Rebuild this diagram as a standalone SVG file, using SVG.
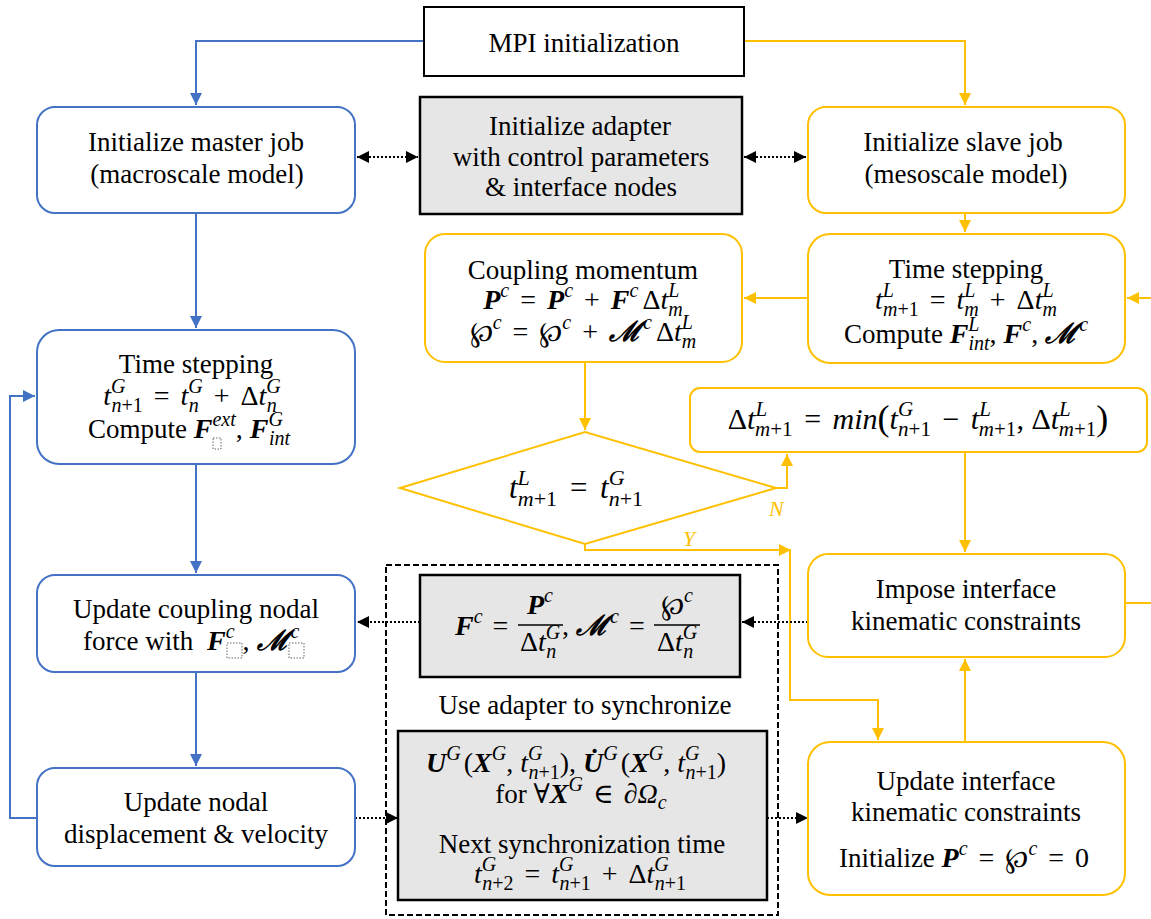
<svg xmlns="http://www.w3.org/2000/svg" width="1151" height="919" viewBox="0 0 1151 919">
<style>
.bl{fill:#fff;stroke:#4472C4;stroke-width:2}
.or{fill:#fff;stroke:#FFC000;stroke-width:2}
.gr{fill:#e7e6e6;stroke:#000;stroke-width:2.5}
.bk{fill:#fff;stroke:#000;stroke-width:2}
.t{font-family:"Liberation Serif","DejaVu Serif",serif;font-size:27px;fill:#000;text-anchor:middle}
.m{font-size:28px}
.st{text-anchor:start}
.i{font-style:italic}
.b{font-style:italic;font-weight:bold}
.s{font-size:20px}
.d{font-size:31px}
.ds{font-size:22px}
.e{font-size:30px}
.es{font-size:21px}
.pa{font-size:36px}
.cb{fill:none;stroke:#4472C4;stroke-width:2}
.co{fill:none;stroke:#FFC000;stroke-width:2}
.cd{fill:none;stroke:#000;stroke-width:2;stroke-dasharray:2 2}
.ph{fill:none;stroke:#666;stroke-width:1;stroke-dasharray:1.5 1.5}
.lab{font-family:"Liberation Serif","DejaVu Serif",serif;font-size:22px;font-style:italic;fill:#FFC000}
</style>
<defs>
<marker id="ab" viewBox="0 0 10 10" refX="10" refY="5" markerWidth="12" markerHeight="12" orient="auto-start-reverse" markerUnits="userSpaceOnUse"><path d="M0,0 L10,5 L0,10 z" fill="#4472C4"/></marker>
<marker id="ao" viewBox="0 0 10 10" refX="10" refY="5" markerWidth="12" markerHeight="12" orient="auto-start-reverse" markerUnits="userSpaceOnUse"><path d="M0,0 L10,5 L0,10 z" fill="#FFC000"/></marker>
<marker id="ak" viewBox="0 0 10 10" refX="10" refY="5" markerWidth="12" markerHeight="12" orient="auto-start-reverse" markerUnits="userSpaceOnUse"><path d="M0,0 L10,5 L0,10 z" fill="#000"/></marker>
</defs>
<rect width="1151" height="919" fill="#fff"/>

<g id="connectors">
<path class="cb" d="M424,41 H196 V105" marker-end="url(#ab)"/>
<path class="cb" d="M196,213 V328" marker-end="url(#ab)"/>
<path class="cb" d="M196,464 V573" marker-end="url(#ab)"/>
<path class="cb" d="M196,672 V766" marker-end="url(#ab)"/>
<path class="cb" d="M37,818 H10 V396 H35" marker-end="url(#ab)"/>
<path class="co" d="M744,41 H965 V105" marker-end="url(#ao)"/>
<path class="co" d="M965,213 V232" marker-end="url(#ao)"/>
<path class="co" d="M808,298 H744" marker-end="url(#ao)"/>
<path class="co" d="M1151,298 H1127" marker-end="url(#ao)"/>
<path class="co" d="M1125,603 H1151"/>
<path class="co" d="M585,362 V430" marker-end="url(#ao)"/>
<path class="co" d="M776,488 H787 V454" marker-end="url(#ao)"/>
<path class="co" d="M585,544 V550 H791" marker-end="url(#ao)"/>
<path class="co" d="M790,550 V700 H878 V740" marker-end="url(#ao)"/>
<path class="co" d="M965,452 V552" marker-end="url(#ao)"/>
<path class="co" d="M965,742 V659" marker-end="url(#ao)"/>
<path class="cd" d="M357,157 H418" marker-start="url(#ak)" marker-end="url(#ak)"/>
<path class="cd" d="M744,157 H806" marker-start="url(#ak)" marker-end="url(#ak)"/>
<path class="cd" d="M808,622 H742" marker-end="url(#ak)"/>
<path class="cd" d="M420,622 H357" marker-end="url(#ak)"/>
<path class="cd" d="M355,818 H398" marker-end="url(#ak)"/>
<path class="cd" d="M767,818 H808" marker-end="url(#ak)"/>
<text class="lab" x="769" y="516">N</text>
<text class="lab" x="683" y="546">Y</text>
</g>

<g id="mpi">
<rect class="bk" x="424" y="7" width="320" height="69"/>
<text class="t" x="584" y="52">MPI initialization</text>
</g>

<g id="master">
<rect class="bl" x="37" y="107" width="318" height="106" rx="18"/>
<text class="t" x="196" y="151">Initialize master job</text>
<text class="t" x="197" y="183">(macroscale model)</text>
</g>

<g id="adapter">
<rect class="gr" x="420" y="97" width="322" height="117"/>
<text class="t" x="580" y="135">Initialize adapter</text>
<text class="t" x="581" y="166">with control parameters</text>
<text class="t" x="581" y="196">&amp; interface nodes</text>
</g>

<g id="slave">
<rect class="or" x="808" y="107" width="317" height="106" rx="18"/>
<text class="t" x="963" y="151">Initialize slave job</text>
<text class="t" x="966" y="183">(mesoscale model)</text>
</g>

<g id="coupling-momentum">
<rect class="or" x="425" y="234" width="317" height="128" rx="20"/>
<text class="t" x="583" y="279">Coupling momentum</text>
<text class="t m" x="583" y="309"><tspan class="b">P</tspan><tspan class="s i" dy="-12">c</tspan><tspan dx="4" dy="12"> = </tspan><tspan class="b" dx="4">P</tspan><tspan class="s i" dy="-12">c</tspan><tspan dx="4" dy="12"> + </tspan><tspan class="b" dx="4">F</tspan><tspan class="s i" dy="-12">c</tspan><tspan dx="4" dy="12">Δ</tspan><tspan class="i">t</tspan><tspan class="s i" dy="-12">L</tspan><tspan class="s i" dx="-11" dy="19">m</tspan></text>
<text class="t m" x="583" y="341"><tspan>℘</tspan><tspan class="s i" dy="-12">c</tspan><tspan dx="4" dy="12"> = </tspan><tspan dx="4">℘</tspan><tspan class="s i" dy="-12">c</tspan><tspan dx="4" dy="12"> + </tspan><tspan class="b" dx="4">ℳ</tspan><tspan class="s i" dx="2" dy="-12">c</tspan><tspan dx="4" dy="12">Δ</tspan><tspan class="i">t</tspan><tspan class="s i" dy="-12">L</tspan><tspan class="s i" dx="-11" dy="19">m</tspan></text>
</g>

<g id="slave-time-stepping">
<rect class="or" x="808" y="234" width="317" height="129" rx="22"/>
<text class="t" x="966" y="278">Time stepping</text>
<text class="t m" x="966" y="309"><tspan class="i">t</tspan><tspan class="s i" dy="-12">L</tspan><tspan class="s" dx="-11" dy="19"><tspan class="i">m</tspan>+1</tspan><tspan dx="4" dy="-7"> = </tspan><tspan class="i" dx="4">t</tspan><tspan class="s i" dy="-12">L</tspan><tspan class="s i" dx="-11" dy="19">m</tspan><tspan dx="4" dy="-7"> + </tspan><tspan dx="4">Δ</tspan><tspan class="i">t</tspan><tspan class="s i" dy="-12">L</tspan><tspan class="s i" dx="-11" dy="19">m</tspan></text>
<text class="t" x="966" y="343">Compute <tspan class="b m">F</tspan><tspan class="s i" dy="-12">L</tspan><tspan class="s i" dx="-11" dy="19">int</tspan><tspan class="m" dy="-7">, </tspan><tspan class="b m">F</tspan><tspan class="s i" dy="-12">c</tspan><tspan class="m" dy="12">, </tspan><tspan class="b m">ℳ</tspan><tspan class="s i" dx="2" dy="-12">c</tspan></text>
</g>

<g id="master-time-stepping">
<rect class="bl" x="37" y="330" width="318" height="134" rx="22"/>
<text class="t" x="196" y="373">Time stepping</text>
<text class="t m" x="192" y="405"><tspan class="i">t</tspan><tspan class="s i" dy="-12">G</tspan><tspan class="s" dx="-14" dy="19"><tspan class="i">n</tspan>+1</tspan><tspan dx="4" dy="-7"> = </tspan><tspan class="i" dx="4">t</tspan><tspan class="s i" dy="-12">G</tspan><tspan class="s i" dx="-14" dy="19">n</tspan><tspan dx="8" dy="-7"> + </tspan><tspan dx="4">Δ</tspan><tspan class="i">t</tspan><tspan class="s i" dy="-12">G</tspan><tspan class="s i" dx="-14" dy="19">n</tspan></text>
<text class="t st" x="88" y="438">Compute <tspan class="b m">F</tspan><tspan class="s i" dy="-12">ext</tspan><tspan class="m" dy="12">, </tspan><tspan class="b m">F</tspan><tspan class="s i" dy="-12">G</tspan><tspan class="s i" dx="-14" dy="19">int</tspan></text>
<rect class="ph" x="213" y="438" width="8" height="11"/>
</g>

<g id="decision">
<polygon class="or" points="400,488 585,432 776,488 585,544"/>
<text class="t d" x="576" y="498"><tspan class="i">t</tspan><tspan class="ds i" dy="-13">L</tspan><tspan class="ds" dx="-12" dy="21"><tspan class="i">m</tspan>+1</tspan><tspan dx="5" dy="-8"> = </tspan><tspan class="i" dx="5">t</tspan><tspan class="ds i" dy="-13">G</tspan><tspan class="ds" dx="-16" dy="21"><tspan class="i">n</tspan>+1</tspan></text>
</g>

<g id="dt-update">
<rect class="or" x="690" y="388" width="457" height="64" rx="10"/>
<text class="t e" x="918" y="429"><tspan>Δ</tspan><tspan class="i">t</tspan><tspan class="es i" dy="-13">L</tspan><tspan class="es" dx="-12" dy="20"><tspan class="i">m</tspan>+1</tspan><tspan dx="4" dy="-7"> = </tspan><tspan class="i" dx="4">min</tspan><tspan class="pa" dy="1">(</tspan><tspan class="i" dy="-1">t</tspan><tspan class="es i" dy="-13">G</tspan><tspan class="es" dx="-15" dy="20"><tspan class="i">n</tspan>+1</tspan><tspan dx="4" dy="-7"> − </tspan><tspan class="i" dx="4">t</tspan><tspan class="es i" dy="-13">L</tspan><tspan class="es" dx="-12" dy="20"><tspan class="i">m</tspan>+1</tspan><tspan dy="-7">, Δ</tspan><tspan class="i">t</tspan><tspan class="es i" dy="-13">L</tspan><tspan class="es" dx="-12" dy="20"><tspan class="i">m</tspan>+1</tspan><tspan class="pa" dy="-6">)</tspan></text>
</g>

<g id="impose">
<rect class="or" x="808" y="554" width="317" height="103" rx="20"/>
<text class="t" x="966" y="598">Impose interface</text>
<text class="t" x="966" y="630">kinematic constraints</text>
</g>

<g id="update-coupling">
<rect class="bl" x="37" y="575" width="318" height="97" rx="18"/>
<text class="t" x="196" y="618">Update coupling nodal</text>
<text class="t st" x="83" y="650">force with <tspan class="b m" dx="7">F</tspan><tspan class="s i" dy="-12">c</tspan><tspan class="m" dx="8" dy="12">, </tspan><tspan class="b m">ℳ</tspan><tspan class="s i" dx="2" dy="-12">c</tspan></text>
<rect class="ph" x="227" y="643" width="15" height="15"/>
<rect class="ph" x="289" y="643" width="15" height="15"/>
</g>

<g id="sync-group">
<rect x="386" y="565" width="392" height="350" fill="none" stroke="#000" stroke-width="2" stroke-dasharray="6 3"/>
<text class="t" x="585" y="714">Use adapter to synchronize</text>
</g>

<g id="force-conversion">
<rect class="gr" x="420" y="575" width="320" height="102"/>
<text class="t m st" x="455" y="635"><tspan class="b">F</tspan><tspan class="s i" dy="-12">c</tspan><tspan dx="3" dy="12"> =</tspan></text>
<line x1="518" y1="625" x2="563" y2="625" stroke="#000" stroke-width="1.5"/>
<text class="t m" x="540" y="614"><tspan class="b">P</tspan><tspan class="s i" dy="-12">c</tspan></text>
<text class="t m" x="540" y="651"><tspan>Δ</tspan><tspan class="i">t</tspan><tspan class="s i" dy="-12">G</tspan><tspan class="s i" dx="-14" dy="19">n</tspan></text>
<text class="t m st" x="562" y="635"><tspan>, </tspan><tspan class="b">ℳ</tspan><tspan class="s i" dx="2" dy="-12">c</tspan><tspan dx="3" dy="12"> =</tspan></text>
<line x1="654" y1="625" x2="700" y2="625" stroke="#000" stroke-width="1.5"/>
<text class="t m" x="677" y="614"><tspan>℘</tspan><tspan class="s i" dy="-12">c</tspan></text>
<text class="t m" x="677" y="651"><tspan>Δ</tspan><tspan class="i">t</tspan><tspan class="s i" dy="-12">G</tspan><tspan class="s i" dx="-14" dy="19">n</tspan></text>
</g>

<g id="sync-data">
<rect class="gr" x="398" y="731" width="369" height="169"/>
<text class="t m" x="576" y="772"><tspan class="b">U</tspan><tspan class="s i" dy="-12">G</tspan><tspan dx="3" dy="12">(</tspan><tspan class="b">X</tspan><tspan class="s i" dy="-12">G</tspan><tspan dy="12">, </tspan><tspan class="i">t</tspan><tspan class="s i" dy="-12">G</tspan><tspan class="s" dx="-14" dy="19"><tspan class="i">n</tspan>+1</tspan><tspan dy="-7">), </tspan><tspan class="b">U̇</tspan><tspan class="s i" dy="-12">G</tspan><tspan dx="3" dy="12">(</tspan><tspan class="b">X</tspan><tspan class="s i" dy="-12">G</tspan><tspan dy="12">, </tspan><tspan class="i">t</tspan><tspan class="s i" dy="-12">G</tspan><tspan class="s" dx="-14" dy="19"><tspan class="i">n</tspan>+1</tspan><tspan dy="-7">)</tspan></text>
<text class="t" x="581" y="803">for ∀<tspan class="b m">X</tspan><tspan class="s i" dy="-12">G</tspan><tspan class="m" dx="3" dy="12"> ∈ </tspan><tspan class="i m" dx="3">∂Ω</tspan><tspan class="s i" dy="6">c</tspan></text>
<text class="t" x="582" y="853">Next synchronization time</text>
<text class="t m" x="580" y="883"><tspan class="i">t</tspan><tspan class="s i" dy="-12">G</tspan><tspan class="s" dx="-14" dy="19"><tspan class="i">n</tspan>+2</tspan><tspan dx="4" dy="-7"> = </tspan><tspan class="i" dx="4">t</tspan><tspan class="s i" dy="-12">G</tspan><tspan class="s" dx="-14" dy="19"><tspan class="i">n</tspan>+1</tspan><tspan dx="4" dy="-7"> + </tspan><tspan dx="4">Δ</tspan><tspan class="i">t</tspan><tspan class="s i" dy="-12">G</tspan><tspan class="s" dx="-14" dy="19"><tspan class="i">n</tspan>+1</tspan></text>
</g>

<g id="update-nodal">
<rect class="bl" x="37" y="768" width="318" height="98" rx="18"/>
<text class="t" x="196" y="811">Update nodal</text>
<text class="t" x="196" y="843">displacement &amp; velocity</text>
</g>

<g id="update-interface">
<rect class="or" x="808" y="742" width="317" height="153" rx="22"/>
<text class="t" x="966" y="790">Update interface</text>
<text class="t" x="966" y="821">kinematic constraints</text>
<text class="t" x="964" y="867">Initialize <tspan class="b m">P</tspan><tspan class="s i" dy="-12">c</tspan><tspan class="m" dx="4" dy="12"> = </tspan><tspan class="m" dx="4">℘</tspan><tspan class="s i" dy="-12">c</tspan><tspan class="m" dx="4" dy="12"> = </tspan><tspan class="m" dx="4">0</tspan></text>
</g>
</svg>
